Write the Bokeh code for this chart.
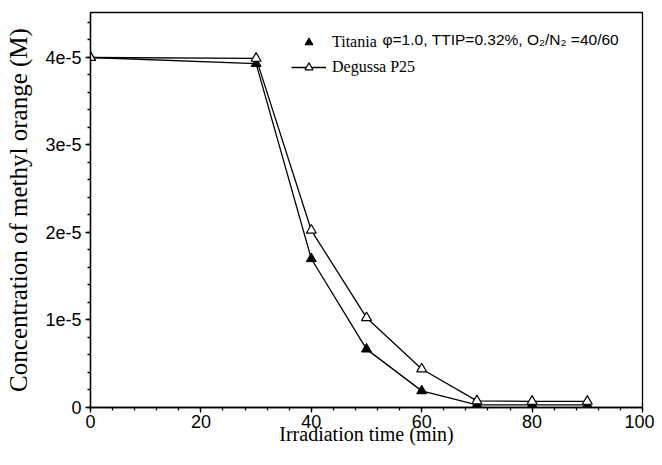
from bokeh.plotting import figure
from bokeh.models import FixedTicker, Legend, LegendItem, Label, Range1d
from bokeh.embed import file_html
from bokeh.resources import INLINE

# ---- data ----
time_min = [0, 30, 40, 50, 60, 70, 80, 90]
titania = [4.00e-5, 3.93e-5, 1.70e-5, 0.667e-5, 0.19e-5, 0.03e-5, 0.03e-5, 0.03e-5]
degussa = [4.00e-5, 3.99e-5, 2.025e-5, 1.026e-5, 0.44e-5, 0.076e-5, 0.07e-5, 0.07e-5]

x_ticks = [0, 20, 40, 60, 80, 100]
x_minor = [v for v in range(0, 101, 4)]
y_ticks = [0.0, 1e-5, 2e-5, 3e-5, 4e-5]
y_tick_labels = ["0", "1e-5", "2e-5", "3e-5", "4e-5"]
y_minor = [i * 0.2e-5 for i in range(0, 23)]

x_title = "Irradiation time (min)"
y_title = "Concentration of methyl orange (M)"
name_titania = "Titania"
name_titania_rest = "\u03c6=1.0, TTIP=0.32%, O\u2082/N\u2082 =40/60"
name_degussa = "Degussa P25"

p = figure(width=654, height=449, output_backend="svg", toolbar_location=None,
           x_range=Range1d(0, 100), y_range=Range1d(0, 4.514e-5),
           min_border_left=90, min_border_right=12, min_border_top=12, min_border_bottom=42,
           background_fill_color="white", border_fill_color="white")
p.grid.visible = False
p.outline_line_color = "black"
p.outline_line_width = 1.3

for ax in (p.xaxis[0], p.yaxis[0]):
    ax.axis_line_width = 1.3
    ax.axis_line_color = "black"
    ax.major_tick_in = 0
    ax.major_tick_out = 5
    ax.minor_tick_in = 0
    ax.minor_tick_out = 3
    ax.major_tick_line_width = 1.3
    ax.minor_tick_line_width = 1.3
    ax.major_label_text_font = "Liberation Sans"
    ax.major_label_text_font_size = "18px"
    ax.major_label_text_color = "black"
    ax.axis_label_text_font = "Liberation Serif"
    ax.axis_label_text_font_style = "normal"
    ax.axis_label_text_color = "black"

p.xaxis.ticker = FixedTicker(ticks=x_ticks, minor_ticks=x_minor)
p.yaxis.ticker = FixedTicker(ticks=y_ticks, minor_ticks=y_minor)
p.yaxis.major_label_overrides = dict(zip(y_ticks, y_tick_labels))
p.xaxis.major_label_standoff = 2
p.yaxis.major_label_standoff = 4
p.xaxis.axis_label = x_title
p.yaxis.axis_label = y_title
p.xaxis.axis_label_text_font_size = "20px"
p.yaxis.axis_label_text_font_size = "25px"
p.xaxis.axis_label_standoff = -8
p.yaxis.axis_label_standoff = 10

t_line = p.line(time_min, titania, line_color="black", line_width=1.3)
t_pts = p.scatter(time_min, titania, marker="triangle", size=10,
                  fill_color="black", line_color="black", line_width=1)
d_line = p.line(time_min, degussa, line_color="black", line_width=1.3)
d_pts = p.scatter(time_min, degussa, marker="triangle", size=10,
                  fill_color="white", line_color="black", line_width=1.2)

legend = Legend(items=[LegendItem(label=name_titania, renderers=[t_pts]),
                       LegendItem(label=name_degussa, renderers=[d_line, d_pts])],
                location=(201, 330), margin=0, padding=0,
                glyph_width=35, glyph_height=20, label_standoff=6, spacing=5,
                label_text_font="Liberation Serif", label_text_font_size="16px",
                label_text_color="black",
                border_line_alpha=0, background_fill_alpha=0)
p.add_layout(legend)

rest = Label(x=292, y=368, x_units="screen", y_units="screen",
             text=name_titania_rest, text_font="Liberation Sans",
             text_font_size="15.5px", text_baseline="middle", text_color="black")
p.add_layout(rest)

open("out.html", "w").write(file_html(p, INLINE))
